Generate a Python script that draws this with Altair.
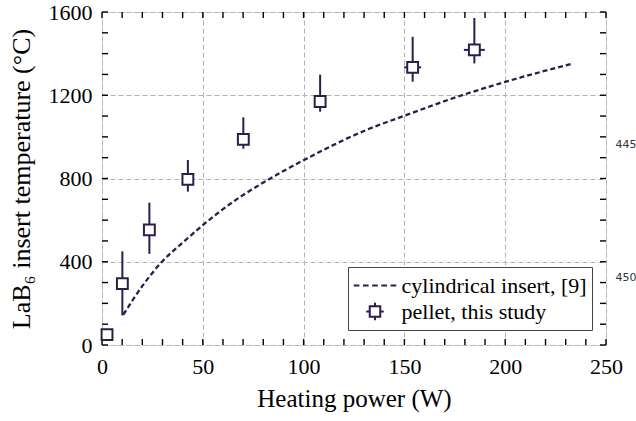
import altair as alt
import pandas as pd

# ---------------- data ----------------
pellet_power = [2.5, 10.1, 23.5, 42.6, 70.1, 108.2, 154.1, 184.7]
pellet_temp = [50, 295, 553, 796, 988, 1170, 1334, 1418]
pellet_temp_hi = [50, 450, 684, 889, 1094, 1299, 1481, 1571]
pellet_temp_lo = [50, 142, 438, 737, 943, 1121, 1265, 1353]
pellet_power_err = [0, 0, 0, 0, 0, 0, 4.2, 5.2]

cyl_power = [10.6, 20.5, 28.8, 40.4, 50.3, 65.3, 78.2, 100.0, 131.6, 150.1, 173.0, 200.3, 233.9]
cyl_temp = [146, 290, 390, 495, 578, 690, 770, 888, 1035, 1102, 1182, 1265, 1353]

series_names = ["cylindrical insert, [9]", "pellet, this study"]
x_major = [0, 50, 100, 150, 200, 250]
y_major = [0, 400, 800, 1200, 1600]
x_minor = list(range(0, 251, 10))
y_minor = list(range(0, 1601, 100))
line_numbers = ["445", "450"]

# ---------------- styling ----------------
W, H = 504, 333
TL = 6  # inward tick length (px)
INK = "#2b1d4c"
FONT = "Liberation Serif"
FS_LAB = 22
FS_XT = 25
FS_YT = 26
FS_LEG = 22

pellet = pd.DataFrame({
    "P": pellet_power,
    "T": pellet_temp,
    "Thi": pellet_temp_hi,
    "Tlo": pellet_temp_lo,
    "Plo": [p - e for p, e in zip(pellet_power, pellet_power_err)],
    "Phi": [p + e for p, e in zip(pellet_power, pellet_power_err)],
})
cyl = pd.DataFrame({"P": cyl_power, "T": cyl_temp})
leg = pd.DataFrame({"series": series_names})
xt = pd.DataFrame({"v": x_minor})
yt = pd.DataFrame({"v": y_minor})

xs = alt.Scale(domain=[0, 250], nice=False, zero=False)
ys = alt.Scale(domain=[0, 1600], nice=False, zero=False)

ax_x_main = alt.Axis(values=x_major, grid=True, ticks=False, domain=False, format="d",
                     labelFont=FONT, labelFontSize=FS_LAB, labelColor="black", labelPadding=11,
                     labelFlush=False, title="Heating power (W)", titleFont=FONT,
                     titleFontSize=FS_XT, titleFontWeight="normal", titleColor="black",
                     titlePadding=9, gridColor="#b3b3b3", gridDash=[5, 3], gridWidth=1)

ax_y_main = alt.Axis(values=y_major, grid=True, ticks=False, domain=False, format="d",
                     labelFont=FONT, labelFontSize=FS_LAB, labelColor="black", labelPadding=10,
                     labelFlush=False, title="LaB₆ insert temperature (°C)", titleFont=FONT,
                     titleFontSize=FS_YT, titleFontWeight="normal", titleColor="black",
                     titlePadding=14, gridColor="#b3b3b3", gridDash=[5, 3], gridWidth=1)

line = alt.Chart(cyl).mark_line(color=INK, strokeDash=[5, 3], strokeWidth=2.3,
                                interpolate="monotone").encode(
    x=alt.X("P:Q", scale=xs, axis=ax_x_main),
    y=alt.Y("T:Q", scale=ys, axis=ax_y_main),
)

# inward ticks on all four sides of the frame
tick_style = dict(color="black", strokeWidth=1.4)
ticks_bottom = alt.Chart(xt).mark_rule(**tick_style).encode(
    x=alt.X("v:Q", scale=xs, axis=None), y=alt.value(H), y2=alt.value(H - TL))
ticks_top = alt.Chart(xt).mark_rule(**tick_style).encode(
    x=alt.X("v:Q", scale=xs, axis=None), y=alt.value(0), y2=alt.value(TL))
ticks_left = alt.Chart(yt).mark_rule(**tick_style).encode(
    y=alt.Y("v:Q", scale=ys, axis=None), x=alt.value(0), x2=alt.value(TL))
ticks_right = alt.Chart(yt).mark_rule(**tick_style).encode(
    y=alt.Y("v:Q", scale=ys, axis=None), x=alt.value(W), x2=alt.value(W - TL))

vbars = alt.Chart(pellet).mark_rule(color=INK, strokeWidth=2).encode(
    x=alt.X("P:Q", scale=xs, axis=None),
    y=alt.Y("Tlo:Q", scale=ys, axis=None),
    y2="Thi:Q",
)

hbars = alt.Chart(pellet).mark_rule(color=INK, strokeWidth=2).encode(
    x=alt.X("Plo:Q", scale=xs, axis=None),
    x2="Phi:Q",
    y=alt.Y("T:Q", scale=ys, axis=None),
)

points = alt.Chart(pellet).mark_point(shape="square", filled=True, fill="white", stroke=INK,
                                      strokeWidth=2, size=118, opacity=1).encode(
    x=alt.X("P:Q", scale=xs, axis=None),
    y=alt.Y("T:Q", scale=ys, axis=None),
)

# legend symbols as custom paths: a dashed line (5 dashes), and a square with error-bar stubs
path_line = ("M-1.7,0H-1.25 M-0.9625,0H-0.5125 M-0.225,0H0.225 "
             "M0.5125,0H0.9625 M1.25,0H1.7")
path_pellet = ("M-0.42,-0.42H0.42V0.42H-0.42Z M0,-0.42V-0.7 M0,0.42V0.7 "
               "M-0.42,0H-0.7 M0.42,0H0.7")

legend_def = alt.Legend(title=None, orient="none", legendX=246, legendY=255,
                        symbolSize=625, symbolOffset=8.5, symbolStrokeWidth=2,
                        symbolStrokeColor=INK, symbolFillColor="white", symbolOpacity=1,
                        labelFont=FONT, labelFontSize=FS_LEG, labelColor="black",
                        labelLimit=400, labelOffset=13, padding=5, rowPadding=1,
                        strokeColor="#444444", fillColor="white", cornerRadius=0)

legend_layer = alt.Chart(leg).mark_point(filled=False, stroke=INK, strokeWidth=2,
                                         opacity=1).encode(
    shape=alt.Shape("series:N", scale=alt.Scale(domain=series_names,
                                                 range=[path_line, path_pellet]),
                    legend=legend_def),
).transform_filter("false")

num1 = alt.Chart(pd.DataFrame({"n": [line_numbers[0]]})).mark_text(
    font="DejaVu Sans", fontSize=11, color="#333333", align="center", baseline="middle"
).encode(text="n:N", x=alt.value(W + 20), y=alt.value(133))
num2 = alt.Chart(pd.DataFrame({"n": [line_numbers[1]]})).mark_text(
    font="DejaVu Sans", fontSize=11, color="#333333", align="center", baseline="middle"
).encode(text="n:N", x=alt.value(W + 20), y=alt.value(266))

chart = alt.layer(line, ticks_bottom, ticks_top, ticks_left, ticks_right,
                  vbars, hbars, points, legend_layer, num1, num2).resolve_axis(
    x="independent", y="independent"
).properties(
    width=W, height=H,
    autosize=alt.AutoSizeParams(type="none"),
    padding={"left": 102, "top": 12, "right": 30, "bottom": 76},
).configure_view(stroke="black", strokeWidth=1.5).configure(background="white")

chart.save("out.html", embed_options={"renderer": "svg", "actions": False})
